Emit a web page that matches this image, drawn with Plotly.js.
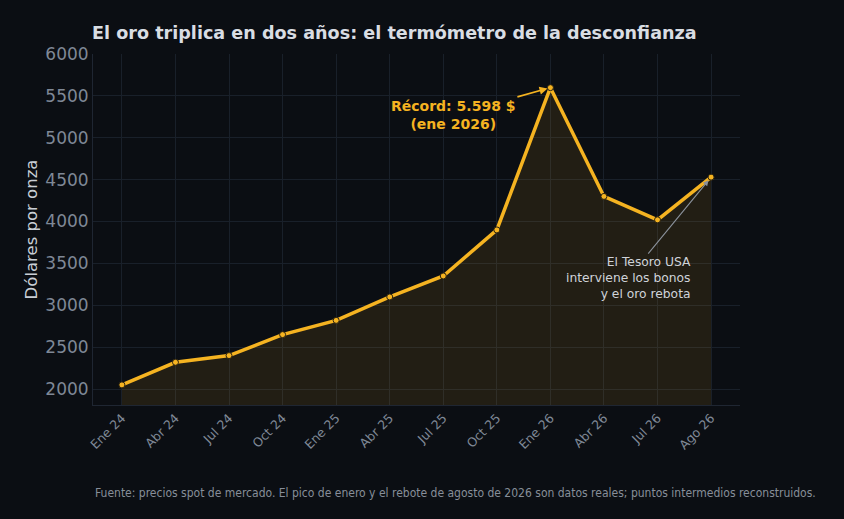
<!DOCTYPE html>
<html>
<head>
<meta charset="utf-8">
<script src="https://cdn.plot.ly/plotly-3.0.1.min.js"></script>
<style>
  html, body { margin: 0; padding: 0; background: #0b0e13; }
  #chart { width: 844px; height: 519px; }
</style>
</head>
<body>
<div id="chart"></div>
<script>
'use strict';

// Meses (eje categórico)
var months = ['Ene 24', 'Abr 24', 'Jul 24', 'Oct 24', 'Ene 25', 'Abr 25',
              'Jul 25', 'Oct 25', 'Ene 26', 'Abr 26', 'Jul 26', 'Ago 26'];
// Precio del oro, USD por onza
var prices = [2050, 2320, 2400, 2650, 2820, 3100, 3350, 3900, 5598, 4300, 4020, 4530];

var peakIndex = 8;
var reboundIndex = 11;

var gold = '#f5b321';
var grid = '#19202a';
var tickGrey = '#7f8896';

function draw(node) {

    var traces = [{
        type: 'scatter',
        x: months,
        y: prices,
        mode: 'lines+markers',
        fill: 'tozeroy',
        fillcolor: 'rgba(245,179,33,0.10)',
        line: { color: gold, width: 3.5 },
        marker: { color: gold, size: 6, line: { color: '#2a2210', width: 1 } },
        hoverinfo: 'x+y',
        showlegend: false
    }];

    var layout = {
        width: 844,
        height: 519,
        paper_bgcolor: '#0b0e13',
        plot_bgcolor: '#0b0e13',
        font: { family: 'DejaVu Sans, sans-serif', color: tickGrey },
        margin: { t: 54, b: 114, l: 93, r: 104 },
        title: {
            text: '<b>El oro triplica en dos años: el termómetro de la desconfianza</b>',
            font: { size: 17.6, color: '#d9dde3' },
            x: 0.109, xanchor: 'left', y: 0.936, yanchor: 'middle'
        },
        xaxis: {
            type: 'category',
            range: [-0.54, 11.54],
            tickangle: -45,
            tickfont: { size: 12.5, color: tickGrey },
            showgrid: true,
            gridcolor: grid,
            showline: true,
            linecolor: '#1f2632',
            ticks: ''
        },
        yaxis: {
            range: [1810, 6000],
            tickvals: [2000, 2500, 3000, 3500, 4000, 4500, 5000, 5500, 6000],
            tickfont: { size: 17, color: tickGrey },
            title: { text: 'Dólares por onza', font: { size: 16.5, color: '#c9ced6' }, standoff: 3 },
            showgrid: true,
            gridcolor: grid,
            zeroline: false,
            showline: true,
            linecolor: '#1f2632',
            ticks: ''
        },
        annotations: [{
            x: months[peakIndex], y: prices[peakIndex],
            xref: 'x', yref: 'y',
            text: '<b>Récord: 5.598 $<br>(ene 2026)</b>',
            font: { size: 14, color: gold },
            showarrow: true,
            arrowhead: 2, arrowsize: 1, arrowwidth: 1.6, arrowcolor: gold,
            ax: -97, ay: 27,
            align: 'center',
            standoff: 3
        }, {
            x: months[reboundIndex], y: prices[reboundIndex],
            xref: 'x', yref: 'y',
            text: 'El Tesoro USA<br>interviene los bonos<br>y el oro rebota',
            font: { size: 12.3, color: '#cfd3d9' },
            showarrow: true,
            arrowhead: 2, arrowsize: 1, arrowwidth: 1.1, arrowcolor: '#8a919b',
            ax: -83, ay: 101,
            align: 'right',
            standoff: 4
        }, {
            xref: 'paper', yref: 'paper',
            x: 0.0, y: -0.252, xanchor: 'left', yanchor: 'middle',
            text: 'Fuente: precios spot de mercado. El pico de enero y el rebote de agosto de 2026 son datos reales; puntos intermedios reconstruidos.',
            font: { family: 'DejaVu Sans Condensed, DejaVu Sans, sans-serif', size: 12, color: '#878e99' },
            showarrow: false
        }]
    };

    Plotly.newPlot(node, traces, layout, { displayModeBar: false, staticPlot: true });
}

draw(document.getElementById('chart'));
</script>
</body>
</html>
